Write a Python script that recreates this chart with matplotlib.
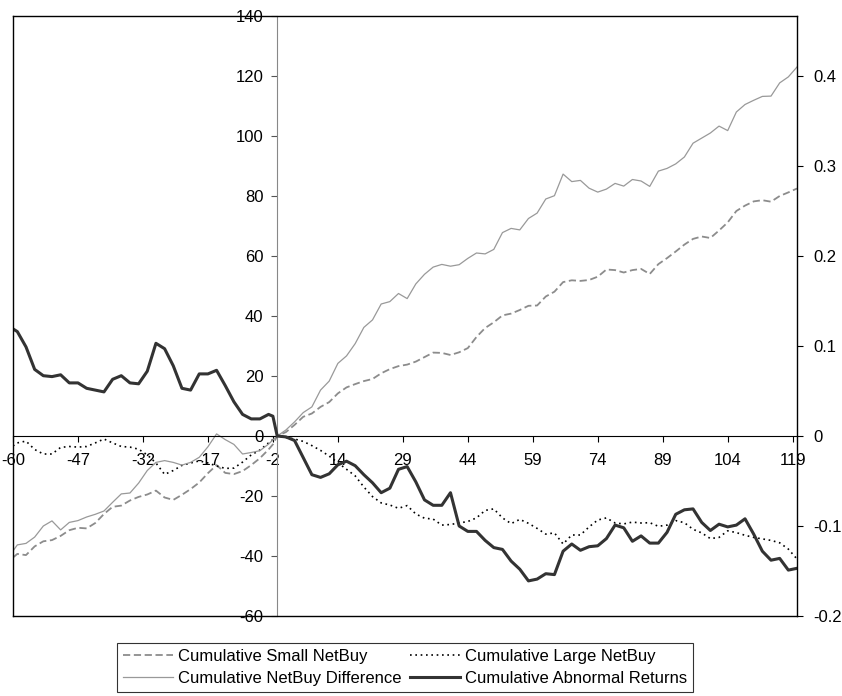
import matplotlib
matplotlib.use('Agg')
import matplotlib.pyplot as plt

plt.rcParams['font.family'] = ['Liberation Sans', 'DejaVu Sans']

# category positions (0 .. 181); tick labels shown every 15 categories
pos = [0] + list(range(1, 60, 2)) + [60] + list(range(61, 182, 2))
tick_pos = list(range(0, 181, 15))
tick_labels = ['-60', '-47', '-32', '-17', '-2', '14', '29', '44', '59', '74', '89', '104', '119']

small_netbuy = [
    -40.5, -39.3, -39.7, -36.8, -35.1, -34.7, -33.3, -31.4, -30.6, -30.8, -29.0,
    -26.0, -23.6, -23.2, -21.5, -20.3, -19.5, -18.2, -20.5, -21.3, -19.6, -17.7,
    -15.5, -12.4, -9.7, -12.3, -12.7, -11.7, -9.7, -7.4, -4.5, -2.8,
    0.0, 1.3, 3.7, 6.4, 7.5, 9.7, 11.3, 14.2, 16.2, 17.3, 18.3, 19.0, 20.9, 22.3,
    23.3, 23.8, 24.8, 26.3, 27.8, 27.7, 27.0, 27.9, 29.3, 33.0, 36.0, 37.9, 40.2,
    40.8, 42.0, 43.4, 43.5, 46.5, 48.1, 51.3, 51.9, 51.7, 52.0, 53.1, 55.5, 55.3,
    54.5, 55.3, 55.7, 54.0, 57.3, 59.3, 61.5, 63.8, 65.7, 66.5, 66.0, 68.5, 71.2,
    75.0, 76.8, 78.2, 78.6, 78.1, 80.0, 81.2, 82.5]

large_netbuy = [
    -3.3, -2.3, -1.7, -4.5, -6.0, -6.0, -3.8, -3.5, -3.7, -3.5, -2.3,
    -1.0, -2.3, -3.5, -3.7, -4.4, -6.3, -9.0, -12.8, -11.5, -9.8, -9.0,
    -8.3, -9.0, -10.0, -10.8, -10.7, -8.7, -6.3, -4.7, -2.3, -1.2,
    0.0, -0.5, -1.0, -1.8, -3.2, -4.8, -6.7, -8.9, -11.1, -13.3, -17.0, -20.2,
    -22.3, -23.0, -24.1, -23.2, -26.0, -27.4, -27.7, -29.7, -29.5, -29.0, -28.5,
    -27.3, -24.8, -24.3, -27.3, -29.2, -27.8, -29.1, -30.8, -32.7, -32.3, -36.0,
    -33.0, -33.0, -30.3, -28.0, -27.3, -29.0, -29.3, -28.7, -29.0, -28.9, -30.1,
    -29.7, -28.2, -28.9, -31.1, -32.3, -34.2, -33.8, -31.6, -32.2, -33.1, -33.8,
    -34.3, -34.8, -35.6, -37.7, -41.0]

netbuy_diff = [
    -38.3, -36.3, -35.8, -33.7, -30.0, -28.3, -31.3, -28.8, -28.2, -27.0, -26.1,
    -25.0, -22.1, -19.3, -19.0, -15.7, -11.5, -8.8, -8.2, -8.8, -9.7, -8.8,
    -7.1, -3.6, 0.7, -1.2, -2.8, -6.0, -5.5, -4.9, -2.7, -1.3,
    0.0, 2.0, 4.7, 7.8, 9.7, 15.3, 18.3, 24.2, 26.7, 30.8, 36.2, 38.7, 44.0, 44.8,
    47.5, 45.8, 50.7, 53.9, 56.3, 57.2, 56.6, 57.1, 59.2, 61.0, 60.7, 62.2, 67.8,
    69.2, 68.7, 72.5, 74.3, 79.0, 80.1, 87.3, 84.8, 85.2, 82.6, 81.3, 82.3, 84.2,
    83.3, 85.5, 85.0, 83.2, 88.3, 89.2, 90.7, 93.0, 97.6, 99.3, 101.0, 103.3,
    101.8, 108.0, 110.5, 111.9, 113.2, 113.3, 117.7, 119.7, 123.0]

abnormal_returns = [
    0.119, 0.116, 0.099, 0.074, 0.067, 0.066, 0.068, 0.059, 0.059, 0.053, 0.051,
    0.049, 0.063, 0.067, 0.059, 0.058, 0.072, 0.103, 0.097, 0.078, 0.053, 0.051,
    0.069, 0.069, 0.073, 0.056, 0.038, 0.024, 0.019, 0.019, 0.024, 0.022,
    0.0, -0.001, -0.005, -0.024, -0.043, -0.046, -0.042, -0.032, -0.028, -0.033,
    -0.043, -0.052, -0.063, -0.058, -0.037, -0.034, -0.051, -0.071, -0.077,
    -0.077, -0.063, -0.100, -0.106, -0.106, -0.116, -0.124, -0.126, -0.139,
    -0.148, -0.161, -0.159, -0.153, -0.154, -0.128, -0.120, -0.127, -0.123,
    -0.122, -0.114, -0.099, -0.102, -0.117, -0.111, -0.119, -0.119, -0.107,
    -0.087, -0.082, -0.081, -0.096, -0.105, -0.098, -0.101, -0.099, -0.092,
    -0.109, -0.128, -0.138, -0.136, -0.149, -0.147]

left_ticks = [-60, -40, -20, 0, 20, 40, 60, 80, 100, 120, 140]
right_ticks = [-0.2, -0.1, 0.0, 0.1, 0.2, 0.3, 0.4]
right_labels = ['-0.2', '-0.1', '0', '0.1', '0.2', '0.3', '0.4']

W, H = 842, 696
fig = plt.figure(figsize=(W / 100, H / 100), dpi=100)
ax = fig.add_axes([13 / W, (H - 616) / H, 784 / W, 600 / H])
ax.set_xlim(0, 181)
ax.set_ylim(-60, 140)
ax.patch.set_visible(False)

ax2 = ax.twinx()
ax2.set_ylim(-0.2, 0.2 * 140 / 60)

FS = 12

# left axis (crosses at category 61) and category axis at y=0
ax.spines['left'].set_position(('data', 61))
ax.spines['left'].set_color('#888888')
ax.spines['bottom'].set_position(('data', 0))
ax.spines['bottom'].set_color('black')
ax.spines['top'].set_visible(False)
ax.spines['right'].set_visible(False)
ax.set_yticks(left_ticks)
ax.set_yticklabels([str(v) for v in left_ticks])
ax.tick_params(axis='y', direction='out', length=4, width=0.8, pad=6, labelsize=FS, color='#555555')
ax.set_xticks(tick_pos)
ax.set_xticklabels(tick_labels)
ax.tick_params(axis='x', direction='out', length=4, width=0.8, pad=8, labelsize=FS)

for s in ['left', 'right', 'top', 'bottom']:
    ax2.spines[s].set_visible(True)
    ax2.spines[s].set_color('black')
    ax2.spines[s].set_linewidth(1.0)
ax2.set_yticks(right_ticks)
ax2.set_yticklabels(right_labels)
ax2.tick_params(axis='y', direction='out', length=4, width=0.8, pad=8, labelsize=FS)

l1, = ax.plot(pos, small_netbuy, color='#8c8c8c', lw=1.3, ls=(0, (4, 2)),
              label='Cumulative Small NetBuy')
l2, = ax.plot(pos, large_netbuy, color='black', lw=1.2, ls=(0, (1, 2.2)),
              label='Cumulative Large NetBuy')
l3, = ax.plot(pos, netbuy_diff, color='#999999', lw=0.9,
              label='Cumulative NetBuy Difference')
l4, = ax2.plot(pos, abnormal_returns, color='#333333', lw=2.2,
               label='Cumulative Abnormal Returns')

leg = fig.legend([l1, l3, l2, l4], [h.get_label() for h in [l1, l3, l2, l4]],
                 loc='upper center', bbox_to_anchor=(405 / W, 1 - 643 / H),
                 ncol=2, fontsize=FS, frameon=True, fancybox=False,
                 edgecolor='black', handlelength=3.0, handletextpad=0.3,
                 columnspacing=0.5, borderpad=0.35, labelspacing=0.45,
                 borderaxespad=0)
leg.get_frame().set_linewidth(0.8)

fig.savefig('out.png', dpi=100)
